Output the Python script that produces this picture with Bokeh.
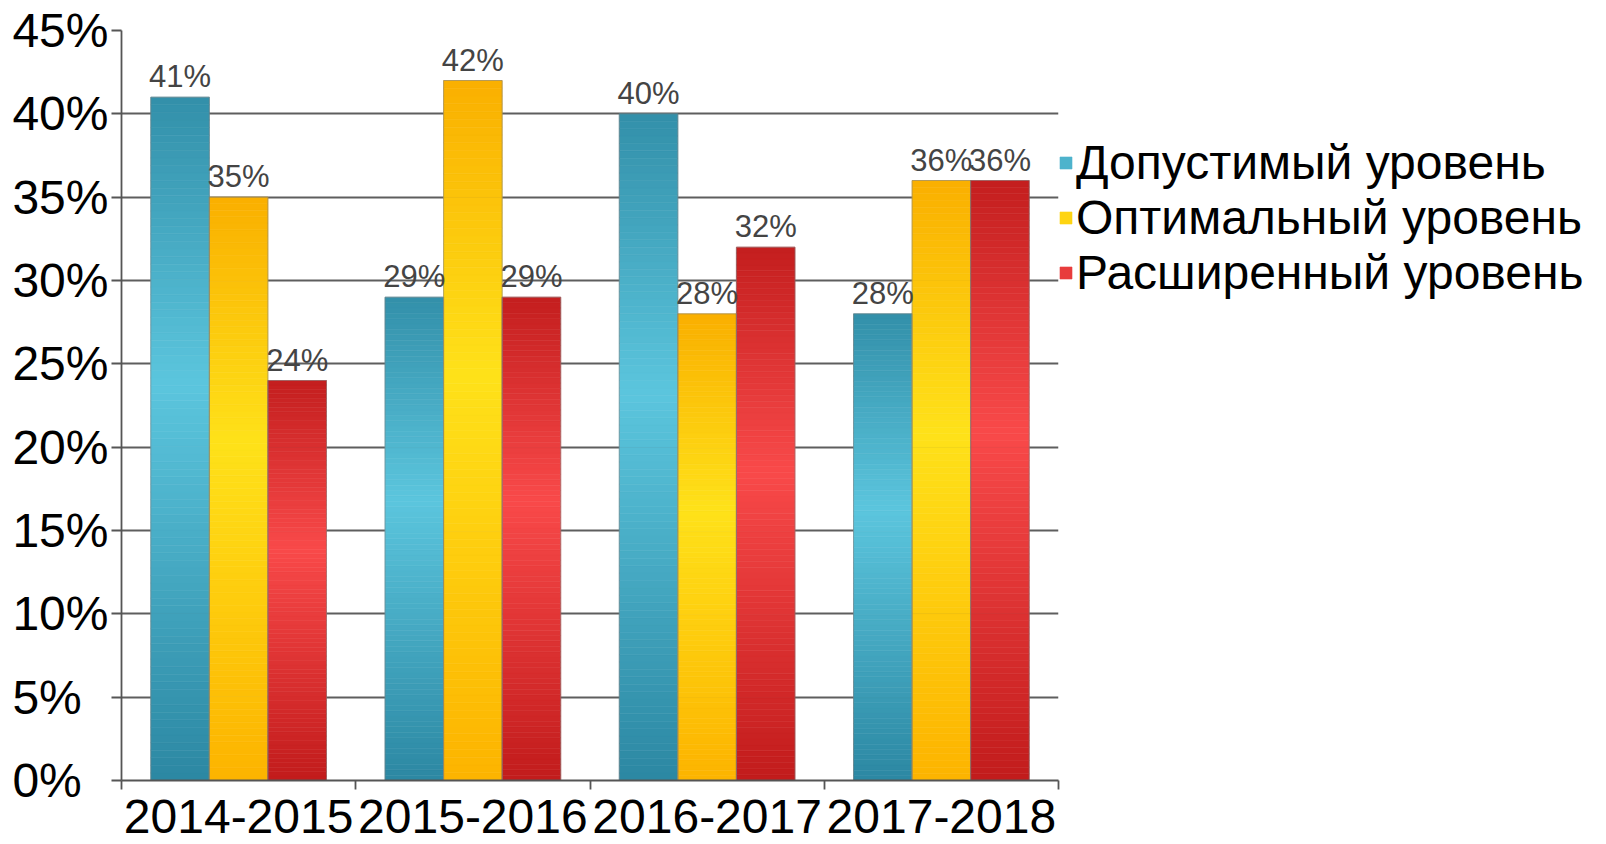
import numpy as np
from bokeh.plotting import figure
from bokeh.models import (ColumnDataSource, FixedTicker, Range1d, Legend,
                          LegendItem)
from bokeh.embed import file_html
from bokeh.resources import INLINE
from bokeh.core.properties import value

# ---------------- data ----------------
categories = ["2014-2015", "2015-2016", "2016-2017", "2017-2018"]
series_names = ["Допустимый уровень", "Оптимальный уровень", "Расширенный уровень"]
dopustimy = [41, 29, 40, 28]
optimalny = [35, 42, 28, 36]
rasshirenny = [24, 29, 32, 36]
y_ticks = [0, 5, 10, 15, 20, 25, 30, 35, 40, 45]

series_values = [dopustimy, optimalny, rasshirenny]

# gradient colour stops per series: (bottom, light, top)
grad_colors = [
    ("#2c88a3", "#5cc6de", "#3390aa"),
    ("#fdb400", "#ffe21a", "#fab000"),
    ("#c21c1c", "#f94a4a", "#c41f1f"),
]

FONT = "Liberation Sans"


def hex2rgb(h):
    h = h.lstrip("#")
    return np.array([int(h[i:i + 2], 16) for i in (0, 2, 4)], dtype=float)


def grad(stops, t):
    b, l, tp = [hex2rgb(c) for c in stops]
    mid = 0.58
    if t <= mid:
        f = t / mid
        c = b + (l - b) * f
    else:
        f = (t - mid) / (1 - mid)
        c = l + (tp - l) * f
    c = np.clip(c, 0, 255).astype(int)
    return "#%02x%02x%02x" % tuple(c)


p = figure(frame_width=937, frame_height=750,
           x_range=Range1d(0, 4), y_range=Range1d(0, 45),
           output_backend="svg", toolbar_location=None,
           min_border_left=121, min_border_top=30, min_border_right=540,
           min_border_bottom=64)
p.outline_line_color = None
p.background_fill_color = "white"

bar_w = 0.25
N = 90
slices = dict(x=[], bottom=[], top=[], color=[])
outl = dict(x=[], top=[])
labels = dict(x=[], y=[], text=[])
legend_index = []
for s, vals in enumerate(series_values):
    off = (s - 1) * bar_w
    for i, v in enumerate(vals):
        xc = i + 0.5 + off
        if i == 0:
            legend_index.append(len(slices["x"]) + int(0.4 * N))
        for k in range(N):
            slices["x"].append(xc)
            slices["bottom"].append(v * k / N)
            slices["top"].append(v * (k + 1) / N)
            slices["color"].append(grad(grad_colors[s], (k + 0.5) / N))
        outl["x"].append(xc)
        outl["top"].append(v)
        labels["x"].append(xc)
        labels["y"].append(v)
        labels["text"].append(f"{v}%")

bars = p.vbar(x="x", bottom="bottom", top="top", width=bar_w,
              fill_color="color", line_color="color", line_width=0.6,
              source=ColumnDataSource(slices))
p.vbar(x="x", bottom=0, top="top", width=bar_w, fill_color=None,
       line_color="#7a7a7a", line_alpha=0.55, line_width=1,
       source=ColumnDataSource(outl))

p.text(x="x", y="y", text="text", source=ColumnDataSource(labels),
       text_font=value(FONT), text_font_size="31px", text_color="#444444",
       text_align="center", text_baseline="bottom", y_offset=-3)

# legend: each entry shows a swatch taken from its own series' bars
items = [LegendItem(label=name, renderers=[bars], index=legend_index[s])
         for s, name in enumerate(series_names)]
legend = Legend(items=items, location=(0, 480),
                label_text_font=FONT, label_text_font_size="48px",
                label_text_color="black", glyph_width=15, glyph_height=15,
                label_standoff=3, spacing=0, padding=0, margin=0,
                border_line_color=None, background_fill_alpha=0)
p.add_layout(legend, "right")

# grid
p.xgrid.visible = False
p.ygrid.ticker = FixedTicker(ticks=y_ticks)
p.ygrid.grid_line_color = "#5e5e5e"
p.ygrid.grid_line_width = 1.8

# y axis
yax = p.yaxis[0]
yax.ticker = FixedTicker(ticks=y_ticks)
yax.major_label_overrides = {
    t: (f"{t}%" if t >= 10 else f"{t}%\u2007") for t in y_ticks
}
yax.major_label_text_font = FONT
yax.major_label_text_font_size = "48px"
yax.major_label_text_color = "black"
yax.major_tick_out = 10
yax.major_tick_in = 0
yax.minor_tick_line_color = None
yax.major_tick_line_color = "#555555"
yax.axis_line_color = "#555555"
yax.axis_line_width = 1.8
yax.major_tick_line_width = 1.8
yax.major_label_standoff = 3

# x axis
xax = p.xaxis[0]
xax.ticker = FixedTicker(ticks=[i + 0.5 for i in range(len(categories))],
                         minor_ticks=list(range(len(categories) + 1)))
xax.major_label_overrides = {i + 0.5: c for i, c in enumerate(categories)}
xax.major_label_text_font = FONT
xax.major_label_text_font_size = "48px"
xax.major_label_text_color = "black"
xax.major_tick_out = 0
xax.major_tick_in = 0
xax.major_tick_line_color = None
xax.minor_tick_out = 9
xax.minor_tick_in = 0
xax.minor_tick_line_color = "#555555"
xax.minor_tick_line_width = 1.8
xax.axis_line_color = "#555555"
xax.axis_line_width = 1.8
xax.major_label_standoff = 10

open("out.html", "w").write(file_html(p, INLINE))
